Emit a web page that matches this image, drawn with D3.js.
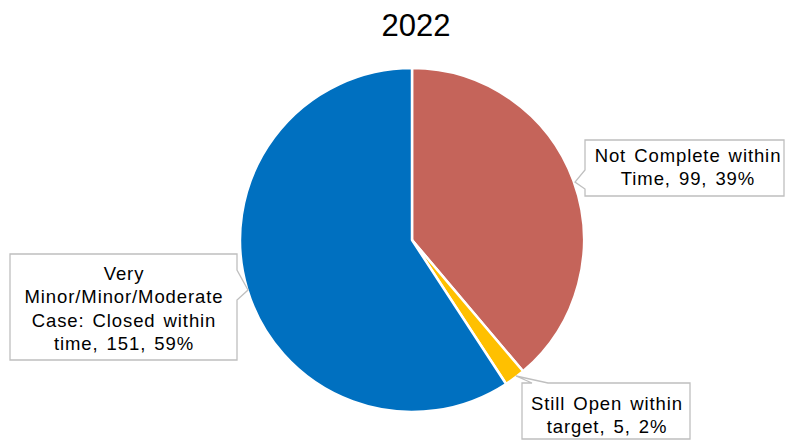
<!DOCTYPE html>
<html>
<head>
<meta charset="utf-8">
<script src="https://cdn.jsdelivr.net/npm/d3@7"></script>
<style>
  html, body { margin: 0; padding: 0; background: #fff; }
  svg { display: block; font-family: "Liberation Sans", Arial, sans-serif; }
</style>
</head>
<body>
<svg id="chart" width="785" height="441"></svg>
<script>
// Case outcomes for 2022
const title = "2022";
const categories = ["Not Complete within\nTime", "Still Open within\ntarget", "Very\nMinor/Minor/Moderate\nCase: Closed within\ntime"];
const values = [99, 5, 151];
const percents = ["39%", "2%", "59%"];
const colors = ["#c5645a", "#ffc000", "#0070c0"];

const svg = d3.select("#chart");
const cx = 412, cy = 240, r = 172;

svg.append("text")
  .attr("x", cx + 4).attr("y", 36)
  .attr("text-anchor", "middle")
  .attr("font-size", 31)
  .attr("fill", "#000")
  .text(title);

const pie = d3.pie().sort(null).value(d => d)(values);
const arc = d3.arc().innerRadius(0).outerRadius(r);

svg.append("g")
  .attr("transform", `translate(${cx},${cy})`)
  .selectAll("path")
  .data(pie)
  .join("path")
  .attr("d", arc)
  .attr("fill", (d, i) => colors[i])
  .attr("stroke", "#fff")
  .attr("stroke-width", 2.5)
  .attr("stroke-linejoin", "round");

// Callout boxes: outline path (with pointer) and text centre / first baseline
const callouts = [
  { path: "M585,140 H784 V196 H585 V189 L575,182 L585,170 Z", tx: 688, ty: 162 },
  { path: "M548,383 H690 V439 H522 V383 H532 L516,376 Z", tx: 607, ty: 410 },
  { path: "M10,254 H237 V270 L248,290 L237,300 V360 H10 Z", tx: 124, ty: 280 }
];

const lh = 23.3;
const labels = svg.append("g");
callouts.forEach((c, i) => {
  labels.append("path")
    .attr("d", c.path)
    .attr("fill", "#fff")
    .attr("stroke", "#bfbfbf")
    .attr("stroke-width", 1.3);
  const lines = categories[i].split("\n");
  lines[lines.length - 1] += `, ${values[i]}, ${percents[i]}`;
  const t = labels.append("text")
    .attr("text-anchor", "middle")
    .attr("font-size", 18.5)
    .attr("letter-spacing", 0.9)
    .attr("word-spacing", 2)
    .attr("fill", "#000");
  lines.forEach((ln, k) => {
    t.append("tspan").attr("x", c.tx).attr("y", c.ty + k * lh).text(ln);
  });
});
</script>
</body>
</html>
